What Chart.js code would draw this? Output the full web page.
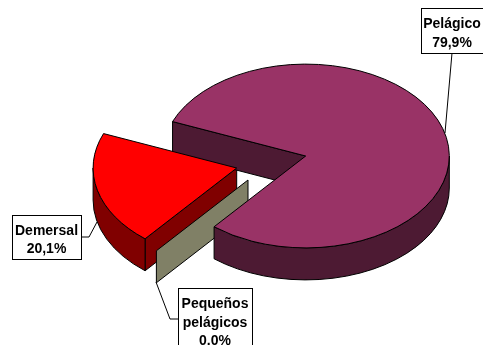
<!DOCTYPE html>
<html>
<head>
<meta charset="utf-8">
<style>
  html, body { margin: 0; padding: 0; background: #fff; }
  canvas { display: block; }
</style>
<script src="https://cdn.jsdelivr.net/npm/chart.js@4"></script>
</head>
<body>
<canvas id="chart" width="483" height="345"></canvas>
<script>
const categories = ['Pelágico', 'Pequeños pelágicos', 'Demersal'];
const values = [79.9, 0.0, 20.1];
const valueLabels = ['79,9%', '0.0%', '20,1%'];

const topColors = ['#993366', '#FFFFCC', '#FF0000'];
const sideColors = ['#4D1A33', '#808066', '#800000'];

// look of the 3d pie
const TILT = 0.64;
const DEPTH = 32;
const FIRST_ANGLE = 292;
const EXPLODE = [[0, 0], [-57.7, 24], [-69, 12]];

// callouts: box, then the leader line
const CALLOUTS = [
  { box: [421, 8, 66, 45], textX: 452, textY: [28, 47], line: [[452, 53], [445, 133]] },
  { box: [178, 288, 74, 66], textX: 215, textY: [308, 327, 345], line: [[156, 282], [170, 319], [178, 319]] },
  { box: [12, 215, 69, 44], textX: 46.5, textY: [235, 253], line: [[81, 237], [89, 237], [97, 222]] }
];

function sectorTop(ctx, arc, i) {
  ctx.save();
  ctx.translate(arc.x + EXPLODE[i][0], arc.y + EXPLODE[i][1]);
  ctx.scale(1, TILT);
  ctx.translate(-arc.x, -arc.y);
  arc.draw(ctx);
  ctx.restore();

  // outline is stroked untransformed so the line keeps one width
  const cx = arc.x + EXPLODE[i][0];
  const cy = arc.y + EXPLODE[i][1];
  ctx.beginPath();
  ctx.moveTo(cx, cy);
  ctx.ellipse(cx, cy, arc.outerRadius, arc.outerRadius * TILT, 0, arc.startAngle, arc.endAngle);
  ctx.closePath();
  ctx.stroke();
}

function radialWall(ctx, arc, i, angle) {
  const cx = arc.x + EXPLODE[i][0];
  const cy = arc.y + EXPLODE[i][1];
  const ex = cx + Math.cos(angle) * arc.outerRadius;
  const ey = cy + Math.sin(angle) * arc.outerRadius * TILT;
  ctx.beginPath();
  ctx.moveTo(cx, cy);
  ctx.lineTo(ex, ey);
  ctx.lineTo(ex, ey + DEPTH);
  ctx.lineTo(cx, cy + DEPTH);
  ctx.closePath();
  ctx.fill();
  ctx.stroke();
}

function sliceWalls(ctx, arc, i) {
  ctx.fillStyle = sideColors[i];
  const start = arc.startAngle;
  const end = arc.endAngle;

  // a cut face only shows when it looks towards the viewer
  if (Math.sin(start - Math.PI / 2) > 0) radialWall(ctx, arc, i, start);
  if (end > start && Math.sin(end + Math.PI / 2) > 0) radialWall(ctx, arc, i, end);

  // curved wall: only the front half of the ellipse
  const cx = arc.x + EXPLODE[i][0];
  const cy = arc.y + EXPLODE[i][1];
  const rx = arc.outerRadius;
  const ry = rx * TILT;
  for (let k = -1; k < 3; k++) {
    const a = Math.max(start, k * 2 * Math.PI);
    const b = Math.min(end, k * 2 * Math.PI + Math.PI);
    if (b <= a) continue;
    ctx.beginPath();
    ctx.ellipse(cx, cy, rx, ry, 0, a, b);
    ctx.ellipse(cx, cy + DEPTH, rx, ry, 0, b, a, true);
    ctx.closePath();
    ctx.fill();
    ctx.stroke();
  }
}

const pie3d = {
  id: 'pie3d',
  beforeDatasetsDraw(chart) {
    const ctx = chart.ctx;
    const arcs = chart.getDatasetMeta(0).data;
    ctx.save();
    ctx.strokeStyle = '#000';
    ctx.lineWidth = 1;
    ctx.lineJoin = 'round';
    sliceWalls(ctx, arcs[2], 2);
    sliceWalls(ctx, arcs[1], 1);
    sliceWalls(ctx, arcs[0], 0);
    sectorTop(ctx, arcs[0], 0);
    sectorTop(ctx, arcs[2], 2);
    ctx.restore();
    return false;
  },
  afterDraw(chart) {
    const ctx = chart.ctx;
    ctx.save();
    ctx.strokeStyle = '#000';
    ctx.lineWidth = 1;
    ctx.font = 'bold 14px "Liberation Sans", Arial, sans-serif';
    ctx.textAlign = 'center';
    ctx.textBaseline = 'alphabetic';
    CALLOUTS.forEach((c, i) => {
      ctx.beginPath();
      c.line.forEach((p, j) => j ? ctx.lineTo(p[0], p[1]) : ctx.moveTo(p[0], p[1]));
      ctx.stroke();

      const [x, y, w, h] = c.box;
      ctx.fillStyle = '#fff';
      ctx.fillRect(x + 0.5, y + 0.5, w, h);
      ctx.strokeRect(x + 0.5, y + 0.5, w, h);

      ctx.fillStyle = '#000';
      const rows = categories[i].split(' ').concat(valueLabels[i]);
      rows.forEach((row, j) => ctx.fillText(row, c.textX, c.textY[j]));
    });
    ctx.restore();
  }
};

new Chart(document.getElementById('chart'), {
  type: 'pie',
  data: {
    labels: categories,
    datasets: [{
      data: values,
      backgroundColor: topColors,
      borderWidth: 0
    }]
  },
  options: {
    responsive: false,
    animation: false,
    rotation: FIRST_ANGLE,
    radius: 143.6,
    layout: { padding: { left: 128.4, right: 0, top: 0, bottom: 33 } },
    plugins: {
      legend: { display: false },
      tooltip: { enabled: false }
    }
  },
  plugins: [pie3d]
});
</script>
</body>
</html>
